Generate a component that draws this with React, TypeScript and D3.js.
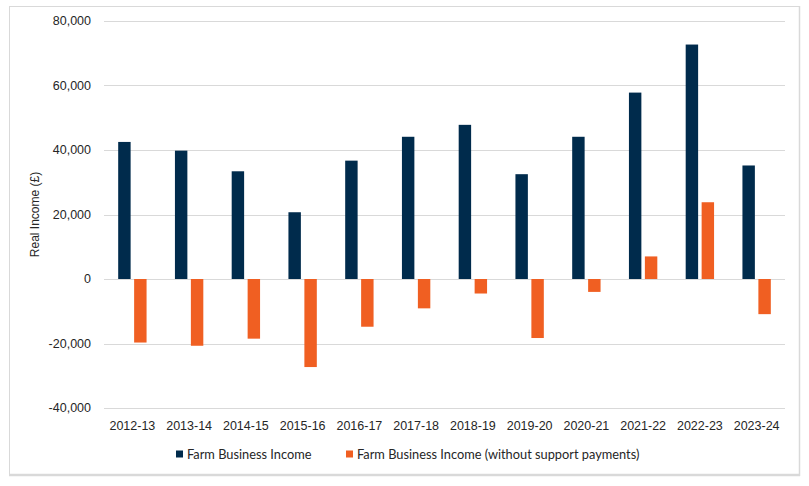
import React from 'react';
import * as d3 from 'd3';

const years = ['2012-13', '2013-14', '2014-15', '2015-16', '2016-17', '2017-18', '2018-19', '2019-20', '2020-21', '2021-22', '2022-23', '2023-24'];
const farmIncome = [42500, 39800, 33400, 20700, 36700, 44100, 47800, 32500, 44100, 57800, 72700, 35200];
const withoutSupport = [-19700, -20700, -18500, -27300, -14800, -9100, -4500, -18300, -4000, 7000, 23800, -10900];
const yTicks = [-40000, -20000, 0, 20000, 40000, 60000, 80000];
const seriesNames = ['Farm Business Income', 'Farm Business Income (without support payments)'];
const seriesColors = ['#002b4c', '#f05f22'];

const W = 809;
const H = 486;

export default function App() {
  const x = d3.scaleBand<string>().domain(years).range([104, 785]).padding(0);
  const inner = d3.scaleBand<number>().domain([0, 1]).range([0, x.bandwidth() * 0.5]).paddingInner(0.22);
  const y = d3.scaleLinear().domain([-40000, 80000]).range([408, 21]);
  // Excel-style labels use a plain hyphen for negatives
  const fmt = (v: number) => d3.format(',')(v).replace('\u2212', '-');
  const series = [farmIncome, withoutSupport];
  const groupOffset = x.bandwidth() * 0.25;

  // legend layout
  const legendX = [176, 346];

  return (
    <svg width={W} height={H} style={{ position: 'absolute', left: 0, top: 0, background: '#fff' }}>
      <rect x={9.5} y={6.5} width={790} height={468} fill="#fff" stroke="#d9d9d9" strokeWidth={1} />
      <line x1={9} x2={800} y1={475} y2={475} stroke="#d9d9d9" strokeWidth={2.5} />
      <line x1={799.5} x2={799.5} y1={6} y2={476} stroke="#d9d9d9" strokeWidth={1.5} />

      {yTicks.map(t => (
        <g key={t}>
          <line x1={104} x2={785} y1={Math.round(y(t)) + 0.5} y2={Math.round(y(t)) + 0.5} stroke="#d9d9d9" strokeWidth={1} />
          <text x={91} y={y(t)} dy="0.35em" textAnchor="end" fontFamily="'Liberation Sans', Arial, sans-serif" fontSize={12.5} fill="#262626">
            {fmt(t)}
          </text>
        </g>
      ))}

      {series.map((vals, si) =>
        vals.map((v, i) => (
          <rect
            key={`${si}-${i}`}
            x={(x(years[i]) ?? 0) + groupOffset + (inner(si) ?? 0)}
            y={y(Math.max(0, v))}
            width={inner.bandwidth()}
            height={Math.abs(y(v) - y(0))}
            fill={seriesColors[si]}
          />
        ))
      )}

      {years.map(yr => (
        <text key={yr} x={(x(yr) ?? 0) + x.bandwidth() / 2} y={430} textAnchor="middle" fontFamily="'Liberation Sans', Arial, sans-serif" fontSize={12.5} fill="#262626">
          {yr}
        </text>
      ))}

      <text transform={`translate(39,${(y(80000) + y(-40000)) / 2}) rotate(-90)`} textAnchor="middle" fontFamily="'Liberation Sans', Arial, sans-serif" fontSize={12} fill="#262626">
        Real Income (£)
      </text>

      {seriesNames.map((name, i) => (
        <g key={name}>
          <rect x={legendX[i]} y={450.5} width={7} height={7} fill={seriesColors[i]} />
          <text x={legendX[i] + 11} y={458.5} fontFamily="Lato, sans-serif" fontSize={12.8} fill="#262626">
            {name}
          </text>
        </g>
      ))}
    </svg>
  );
}
